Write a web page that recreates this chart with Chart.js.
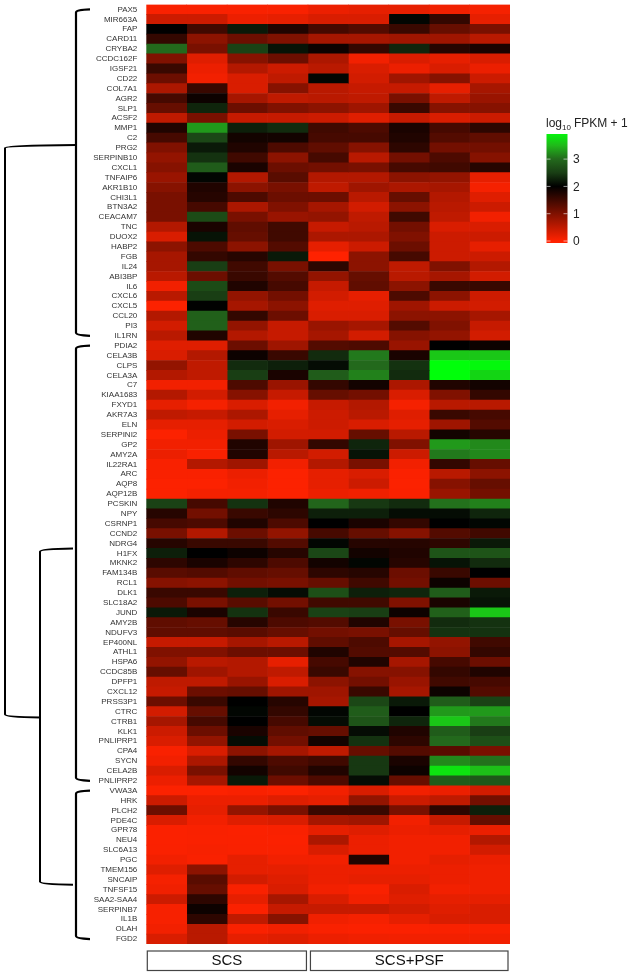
<!DOCTYPE html>
<html>
<head>
<meta charset="utf-8">
<title>Heatmap</title>
<script src="https://cdn.jsdelivr.net/npm/chart.js@4"></script>
<style>
    html, body { margin: 0; padding: 0; background: #fff; }
    #wrap { position: absolute; left: 0; top: 0; width: 631px; height: 975px; }
</style>
</head>
<body>
<div id="wrap"><canvas id="heat"></canvas></div>
<script>
const sampleGroups = ['SCS', 'SCS+PSF'];
const groupSizes = [4, 5];
const legendTicks = [0, 1, 2, 3];

const genesA = ['PAX5', 'MIR663A', 'FAP', 'CARD11', 'CRYBA2', 'CCDC162F', 'IGSF21', 'CD22', 'COL7A1', 'AGR2', 'SLP1', 'ACSF2', 'MMP1', 'C2', 'PRG2', 'SERPINB10', 'CXCL1', 'TNFAIP6', 'AKR1B10', 'CHI3L1', 'BTN3A2', 'CEACAM7', 'TNC', 'DUOX2', 'HABP2', 'FGB', 'IL24', 'ABI3BP', 'IL6', 'CXCL6', 'CXCL5', 'CCL20', 'PI3', 'IL1RN'];
const genesB = ['PDIA2', 'CELA3B', 'CLPS', 'CELA3A', 'C7', 'KIAA1683', 'FXYD1', 'AKR7A3', 'ELN', 'SERPINI2', 'GP2', 'AMY2A', 'IL22RA1', 'ARC', 'AQP8', 'AQP12B', 'PCSKIN', 'NPY', 'CSRNP1', 'CCND2', 'NDRG4', 'H1FX', 'MKNK2', 'FAM134B', 'RCL1', 'DLK1', 'SLC18A2', 'JUND', 'AMY2B', 'NDUFV3', 'EP400NL', 'ATHL1', 'HSPA6', 'CCDC85B', 'DPFP1', 'CXCL12', 'PRSS3P1', 'CTRC', 'CTRB1', 'KLK1', 'PNLIPRP1', 'CPA4', 'SYCN', 'CELA2B', 'PNLIPRP2'];
const genesC = ['VWA3A', 'HRK', 'PLCH2', 'PDE4C', 'GPR78', 'NEU4', 'SLC6A13', 'PGC', 'TMEM156', 'SNCAIP', 'TNFSF15', 'SAA2-SAA4', 'SERPINB7', 'IL1B', 'OLAH', 'FGD2'];

// log10 FPKM + 1, one row per gene
const rowsA = [
    [.05, .05, .05, .05, .15, .2, .2, .12, .08],
    [.4, .4, .15, .2, .3, .3, 2.05, 1.6, .2],
    [2, 1.5, 2.2, 1.75, 1.45, 1.35, 1.55, 1.2, 1.05],
    [1.6, .9, 1.15, 1, .7, .7, .75, .75, .55],
    [3, 1.05, 2.55, 2.15, 1.9, 1.6, 2.3, 1.7, 1.8],
    [1, .25, .95, 1.15, .65, .1, .3, .2, .3],
    [1.55, .15, .6, .4, .55, .3, .15, .3, .15],
    [1.15, .1, .3, .5, 2.05, .35, .75, .95, .4],
    [.65, 1.55, .3, .95, .55, .45, .45, .2, .7],
    [1.45, 1.9, .7, .5, .55, .5, 1.05, .5, .8],
    [1.2, 2.3, 1.15, 1, .9, .75, 1.55, .95, .95],
    [.5, 1.05, .45, .45, .4, .25, .45, .3, .4],
    [1.75, 3.3, 2.25, 2.35, 1.5, 1.4, 1.8, 1.45, 1.65],
    [1.45, 2.6, 1.85, 1.85, 1.45, 1.45, 1.75, 1.35, 1.25],
    [1, 2.2, 1.75, 1.4, 1.25, .95, 1.65, 1.1, 1.1],
    [.85, 2.4, 1.5, .9, 1.45, .55, 1.1, 1.4, .95],
    [.95, 2.85, 1.8, 1.15, 1.1, 1.05, 1.45, 1.5, 1.7],
    [.8, 2.05, .6, 1.3, .6, .6, .9, .85, .2],
    [.95, 1.75, .9, 1.05, .5, .75, .65, .7, .08],
    [1.05, 1.7, 1.4, 1.15, 1.15, .55, 1.2, .6, .25],
    [1.05, 1.45, .65, 1, .7, .35, .9, .55, .4],
    [1.05, 2.65, 1.05, .8, .85, .5, 1.5, .5, .1],
    [.6, 1.8, 1.25, 1.5, .45, .55, 1.1, .3, .3],
    [.3, 2.15, 1.2, 1.5, .65, .65, 1, .4, .4],
    [.9, 1.4, .9, 1.35, .2, .4, 1.15, .4, .2],
    [.7, 1.6, 1.7, 2.2, 0, .9, 1.45, .4, .4],
    [.7, 2.5, 1.5, 1.05, 1.65, .9, .5, 1, .6],
    [.55, 1.15, 1.55, 1.35, .85, 1.2, .55, .7, .35],
    [.1, 2.65, 1.75, 1.45, .45, 1.25, .9, 1.55, 1.55],
    [.55, 2.5, .85, 1.1, .35, .2, 1.4, .9, .4],
    [.02, 2.02, .7, .9, .25, .25, .75, .4, .35],
    [.6, 2.9, 1.6, 1.15, .3, .3, .9, .9, .7],
    [.35, 2.9, .85, .45, .8, .7, 1.35, 1, .45],
    [.55, 1.75, .6, .45, .7, .35, .95, .85, .35]
];
const rowsB = [
    [.25, .25, 1.15, .75, 1.35, 1.4, .8, 2, 1.9],
    [.3, .6, 1.9, 1.55, 2.35, 3.1, 1.8, 3.6, 3.6],
    [.85, .5, 2.35, 2.25, 2.1, 3, 2.4, 4, 3.95],
    [.6, .5, 2.5, 1.8, 2.85, 3.15, 2.35, 4, 3.7],
    [.1, .1, 1.4, .8, 1.6, 1.85, .65, 1.75, 1.85],
    [.6, .35, .95, .45, 1.2, 1.1, .3, 1, 1.6],
    [.2, .08, .3, .1, .45, .6, .08, .55, .55],
    [.5, .45, .65, .2, .4, .55, .25, 1.55, 1.45],
    [.2, .2, .35, .3, .4, .3, .2, .75, 1.35],
    [.02, .15, 1.05, .35, .35, 1.2, .55, 1.85, 1.7],
    [.1, .1, 1.75, .75, 1.6, 2.3, 1, 3.3, 3.2],
    [.15, .05, 1.75, .55, .35, 2.15, .4, 3.1, 3.2],
    [.05, .6, .75, .1, .6, 1.05, .1, 1.6, 1.2],
    [.05, .05, .15, .02, .2, .3, .03, .55, .9],
    [.02, .02, .1, .02, .2, .4, .02, .95, 1.2],
    [.02, .08, .08, .02, .15, .12, .03, .8, 1.1],
    [2.55, 1.45, 2.4, 1.75, 2.95, 2.45, 2.35, 3.05, 3.15],
    [1.7, 1.1, 1.55, 1.65, 2.25, 2.25, 2.1, 2.1, 2.3],
    [1.45, 1.4, 1.75, 1.4, 2, 1.8, 1.6, 2, 2.05],
    [1.05, .6, 1.15, .85, 1.45, 1.2, .95, 1.35, 1.5],
    [1.7, 1.55, 1.55, 1.35, 2.05, 1.7, 1.7, 1.65, 2.2],
    [2.25, 2, 1.9, 1.7, 2.6, 1.85, 1.75, 2.75, 2.75],
    [1.65, 1.8, 1.65, 1.4, 1.85, 2.05, 1.7, 2.15, 2.35],
    [1.3, 1.35, 1.25, 1.2, 1.65, 1.7, 1.15, 1.55, 2],
    [.95, .9, 1.1, 1.05, 1.2, 1.5, 1.1, 1.9, 1.15],
    [1.55, 1.55, 2.25, 2.1, 2.7, 2.25, 2.3, 2.85, 2.2],
    [1.4, 1.05, 1.3, 1.1, 1.5, 1.5, 1, 1.8, 2.15],
    [2.2, 1.8, 2.4, 1.55, 2.55, 2.5, 1.9, 2.9, 3.6],
    [1.25, 1.2, 1.7, 1.4, 1.35, 1.75, 1.05, 2.35, 2.4],
    [1.25, 1.25, 1.3, 1.2, 1.1, 1.05, 1.2, 2.4, 2.4],
    [.45, .45, .7, .55, 1.25, 1.4, .7, .85, 1.5],
    [1, 1, 1.15, 1.15, 1.75, 1.35, 1.35, .9, 1.6],
    [.85, .55, .6, .2, 1.45, 1.75, .7, 1.45, 1.15],
    [1.2, .75, .6, .5, 1.55, .95, .95, 1.6, 1.75],
    [.5, .5, .8, .3, .9, 1.1, .8, 1.5, 1.45],
    [.45, 1.15, 1.2, .75, .75, 1.55, .7, 1.9, 1.35],
    [1.15, 1.55, 2, 1.7, .7, 2.6, 2.2, 2.85, 2.55],
    [.35, 1.2, 2.05, 1.6, 2.05, 2.85, 2, 3.3, 3.3],
    [.7, 1.45, 2, 1.45, 2.1, 2.75, 2.3, 3.6, 3.1],
    [.4, 1.15, 1.8, 1.25, 1.2, 2.1, 1.75, 2.85, 2.5],
    [.3, .85, 2.1, 1.1, 1.85, 2.4, 1.65, 3, 2.7],
    [.05, .3, .9, .7, .5, 1.2, 1.35, 1.3, 1.05],
    [.1, .65, 1.6, 1.4, 1.5, 2.45, 1.8, 3.2, 3.05],
    [.3, 1.05, 1.85, 1.5, 1.75, 2.45, 1.9, 3.8, 3.55],
    [.15, .7, 2.2, 1.15, 1.4, 2.1, 1.2, 2.85, 2.8]
];
const rowsC = [
    [.02, .02, .05, .02, .1, .3, .1, .15, .35],
    [.4, .15, .15, .25, .2, .85, .4, .5, 1.1],
    [1.15, .2, .85, 1.05, 1.55, 1.55, 1.05, 1.65, 2.25],
    [.3, .1, .25, .3, .7, .75, .1, .45, 1.2],
    [.03, .05, .03, .05, .2, .25, .15, .2, .15],
    [.03, .04, .04, .03, .65, .15, .1, .1, .6],
    [.04, .06, .05, .05, .3, .15, .1, .1, .35],
    [.1, .05, .2, .1, .1, 1.75, .1, .2, .15],
    [.25, .9, .2, .2, .15, .15, .15, .15, .12],
    [.08, 1.3, .35, .25, .15, .2, .2, .15, .12],
    [.12, 1.2, .05, .3, .1, .05, .3, .1, .12],
    [.4, 1.65, .2, .7, .3, .1, .25, .2, .2],
    [.06, 1.9, .03, .45, .45, .45, .35, .25, .3],
    [.06, 1.65, .5, .95, .12, .08, .2, .3, .3],
    [.1, .55, .04, .1, .05, .03, .03, .05, .05],
    [.3, .55, .2, .25, .15, .12, .1, .1, .1]
];

const genes = genesA.concat(genesB, genesC);
const rows = rowsA.concat(rowsB, rowsC);

// colour ramp of the legend, red through black to green
const ramp = [
    { v: 0, c: [255, 34, 0] },
    { v: 2, c: [0, 0, 0] },
    { v: 2.5, c: [25, 62, 20] },
    { v: 3, c: [35, 105, 28] },
    { v: 3.5, c: [32, 185, 26] },
    { v: 4, c: [0, 255, 10] }
];

function heatColor(v) {
    let i = 0;
    while (i < ramp.length - 2 && v > ramp[i + 1].v) i++;
    const a = ramp[i], b = ramp[i + 1];
    const t = Math.max(0, Math.min(1, (v - a.v) / (b.v - a.v)));
    const c = a.c.map((x, k) => Math.round(x + (b.c[k] - x) * t));
    return `rgb(${c[0]},${c[1]},${c[2]})`;
}

// one stacked bar segment per sample, each one column wide
const datasets = rows[0].map((_, col) => ({
    label: 'sample ' + (col + 1),
    data: genes.map(() => 1),
    backgroundColor: rows.map(r => heatColor(r[col])),
    borderWidth: 0,
    barPercentage: 1,
    categoryPercentage: 1
}));

function branch(ctx, tipX, spineX, y0, y1, endX) {
    // curved bracket: top tip, spine, bottom tip
    ctx.beginPath();
    ctx.moveTo(tipX, y0);
    ctx.quadraticCurveTo(spineX, y0 + 0.5, spineX, y0 + 3);
    ctx.lineTo(spineX, y1 - 3);
    ctx.quadraticCurveTo(spineX, y1 - 0.5, endX, y1);
    ctx.stroke();
}

const dendrogram = {
    id: 'dendrogram',
    afterDraw(chart) {
        const { ctx, scales: { y } } = chart;
        const row = n => y.getPixelForValue(n);
        ctx.save();
        ctx.strokeStyle = '#000';
        ctx.lineWidth = 2.2;
        const endA = genesA.length - 1;
        const startB = genesA.length;
        const endB = startB + genesB.length - 1;
        const startC = endB + 1;
        const endC = genes.length - 1;
        branch(ctx, 90, 76, row(0), row(endA), 90);
        branch(ctx, 90, 76, row(startB), row(endB), 90);
        branch(ctx, 90, 76, row(startC), row(endC), 90);
        ctx.lineWidth = 2;
        branch(ctx, 73, 40, row(54.5), row(88.5), 73);
        branch(ctx, 76, 5, row(13.7), row(71.6), 40);
        ctx.restore();
    }
};

const groupBoxes = {
    id: 'groupBoxes',
    afterDraw(chart) {
        const { ctx, scales: { x } } = chart;
        ctx.save();
        ctx.strokeStyle = '#444';
        ctx.lineWidth = 1.2;
        ctx.fillStyle = '#111';
        ctx.font = '15px "Liberation Sans", Arial, sans-serif';
        ctx.textAlign = 'center';
        ctx.textBaseline = 'middle';
        let col = 0;
        sampleGroups.forEach((name, i) => {
            const left = x.getPixelForValue(col) + (i == 0 ? 1 : 2.5);
            const right = x.getPixelForValue(col + groupSizes[i]) - (i == 0 ? 1.5 : 2);
            ctx.strokeRect(left, 951, right - left, 19.5);
            ctx.fillText(name, (left + right) / 2, 961);
            col += groupSizes[i];
        });
        ctx.restore();
    }
};

const colorLegend = {
    id: 'colorLegend',
    afterDraw(chart) {
        const { ctx } = chart;
        const left = 546.5, width = 21, zeroY = 241, unit = 27.3, top = 134, bottom = 243;
        const font = '12px "Liberation Sans", Arial, sans-serif';
        ctx.save();
        const grad = ctx.createLinearGradient(0, zeroY, 0, zeroY - 4 * unit);
        ramp.forEach(s => grad.addColorStop(s.v / 4, heatColor(s.v)));
        ctx.fillStyle = grad;
        ctx.fillRect(left, top, width, bottom - top);

        ctx.strokeStyle = 'rgba(255,255,255,0.75)';
        ctx.lineWidth = 0.8;
        ctx.fillStyle = '#222';
        ctx.font = font;
        ctx.textBaseline = 'middle';
        legendTicks.forEach(t => {
            const yy = zeroY - t * unit;
            ctx.beginPath();
            ctx.moveTo(left, yy);
            ctx.lineTo(left + 4, yy);
            ctx.moveTo(left + width - 4, yy);
            ctx.lineTo(left + width, yy);
            ctx.stroke();
            ctx.fillText(String(t), 573, yy + 1);
        });

        // title with a subscript
        ctx.textBaseline = 'alphabetic';
        let tx = 546;
        ctx.fillText('log', tx, 127);
        tx += ctx.measureText('log').width;
        ctx.font = '8px "Liberation Sans", Arial, sans-serif';
        ctx.fillText('10', tx, 130);
        tx += ctx.measureText('10').width + 3;
        ctx.font = font;
        ctx.fillText('FPKM + 1', tx, 127);
        ctx.restore();
    }
};

new Chart(document.getElementById('heat'), {
    type: 'bar',
    data: { labels: genes, datasets },
    plugins: [dendrogram, groupBoxes, colorLegend],
    options: {
        indexAxis: 'y',
        responsive: true,
        maintainAspectRatio: false,
        animation: false,
        layout: { autoPadding: false, padding: { left: 0, top: 4.5, right: 121, bottom: 31 } },
        plugins: {
            legend: { display: false },
            title: { display: false },
            tooltip: { enabled: false }
        },
        scales: {
            x: {
                stacked: true,
                display: false,
                min: 0,
                max: rows[0].length
            },
            y: {
                stacked: true,
                afterFit: scale => {
                    scale.width = 146.3;
                    scale.paddingTop = 0;
                    scale.paddingBottom = 0;
                },
                border: { display: false },
                grid: { display: false, drawTicks: false },
                ticks: {
                    autoSkip: false,
                    padding: 9,
                    color: '#333',
                    font: { family: '"Liberation Sans", Arial, sans-serif', size: 8 }
                }
            }
        }
    }
});
</script>
</body>
</html>
